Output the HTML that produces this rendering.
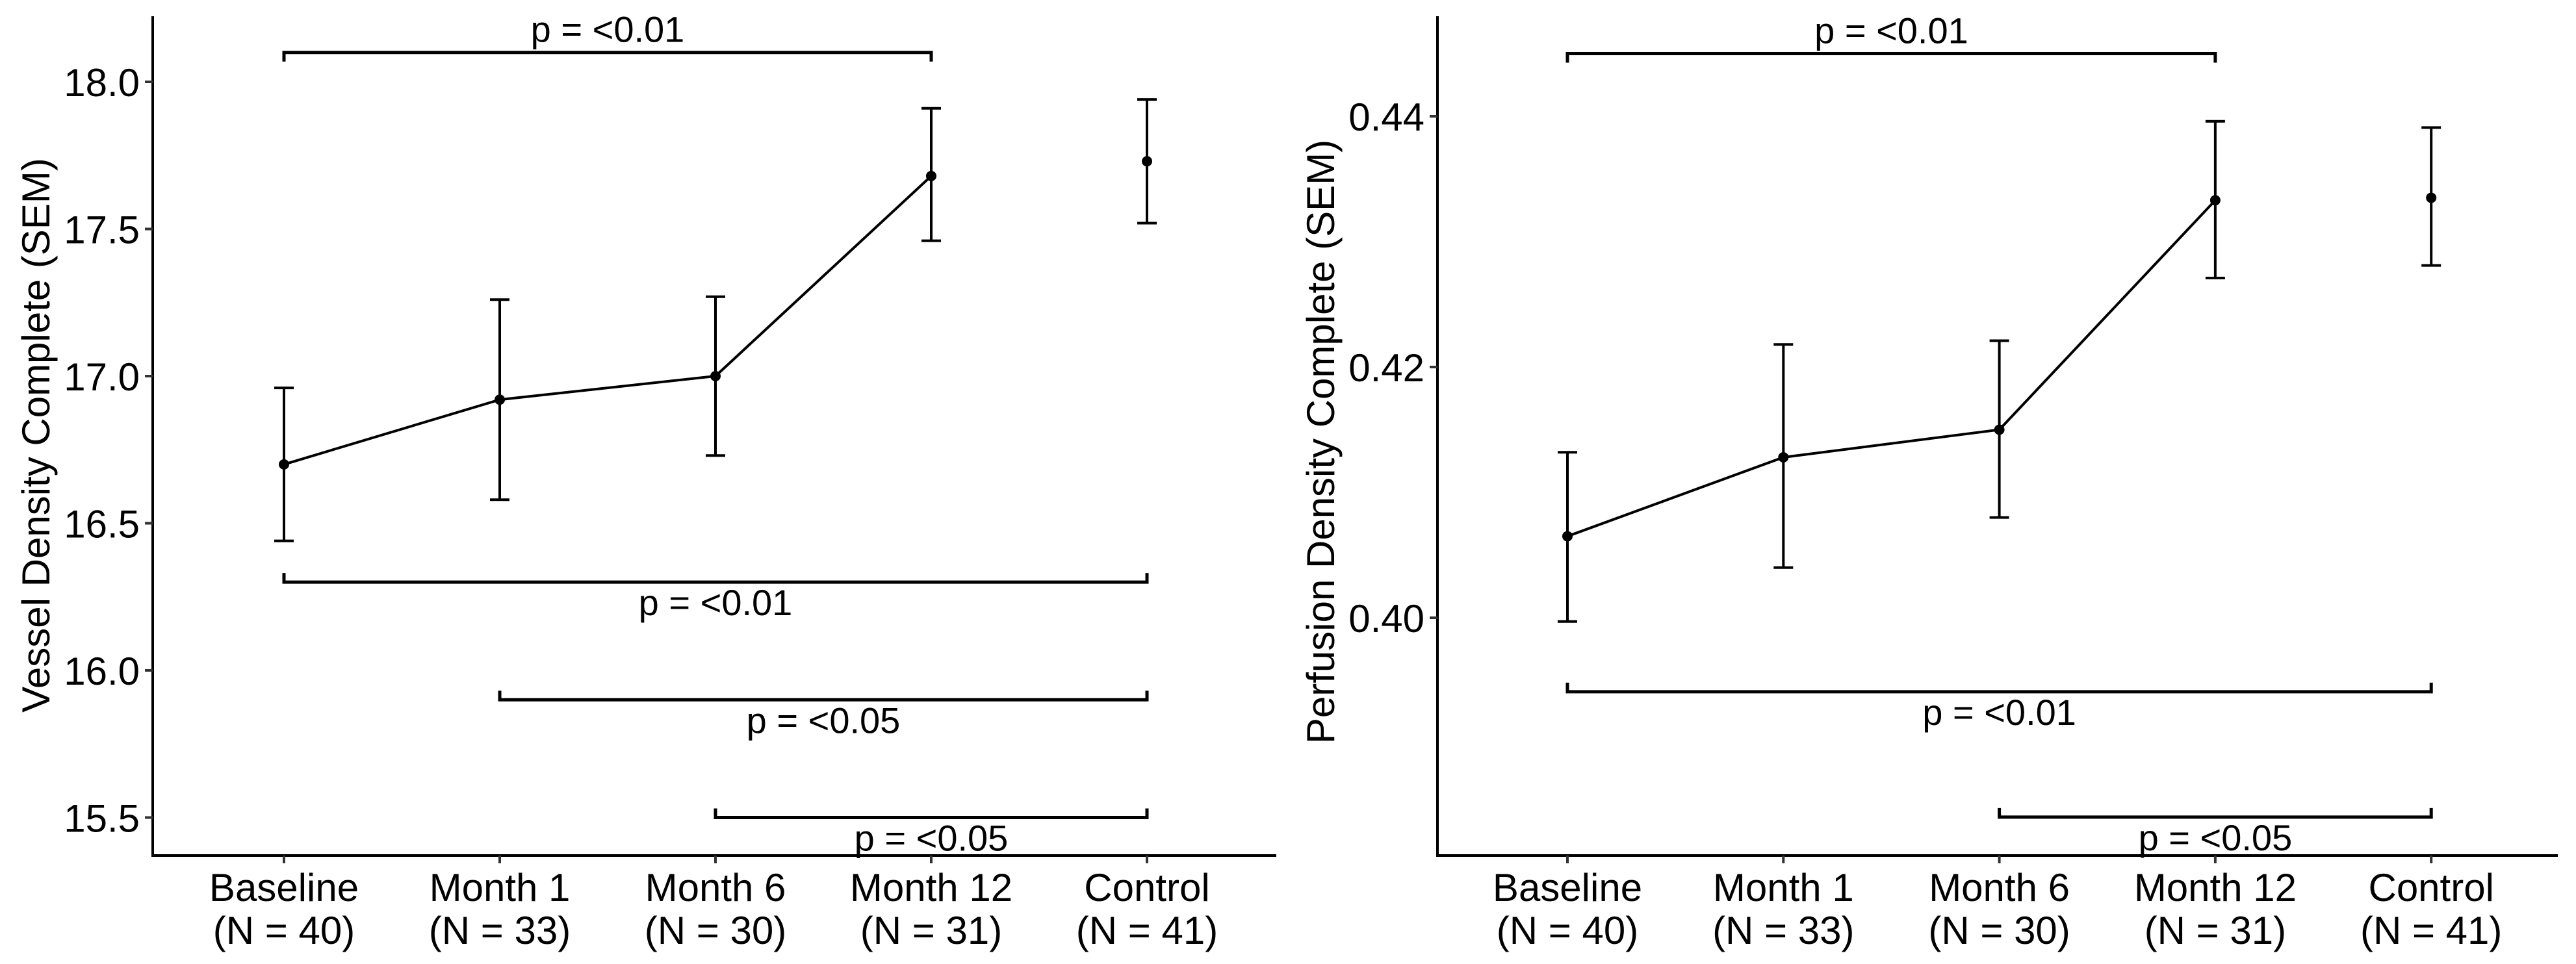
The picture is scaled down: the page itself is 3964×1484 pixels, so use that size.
<!DOCTYPE html>
<html><head><meta charset="utf-8"><style>
html,body{margin:0;padding:0;background:#fff;}
svg{display:block;font-family:"Liberation Sans",Arial,sans-serif;}
</style></head><body>
<svg id="chart" width="3964" height="1484" viewBox="0 0 3964 1484" xmlns="http://www.w3.org/2000/svg"></svg>
<script>
const categories = ["Baseline","Month 1","Month 6","Month 12","Control"];
const nLabels = ["(N = 40)","(N = 33)","(N = 30)","(N = 31)","(N = 41)"];
const vesselMean = [16.70,16.92,17.00,17.68,17.73];
const vesselLow  = [16.44,16.58,16.73,17.46,17.52];
const vesselHigh = [16.96,17.26,17.27,17.91,17.94];
const vesselTicks = [15.5,16.0,16.5,17.0,17.5,18.0];
const vesselTickLabels = ["15.5","16.0","16.5","17.0","17.5","18.0"];
const vesselBrackets = [[0,3,18.10,"p = <0.01","up"],[0,4,16.30,"p = <0.01","down"],[1,4,15.90,"p = <0.05","down"],[2,4,15.50,"p = <0.05","down"]];
const perfMean = [0.4065,0.4128,0.4150,0.4333,0.4335];
const perfLow  = [0.3997,0.4040,0.4080,0.4271,0.4281];
const perfHigh = [0.4132,0.4218,0.4221,0.4396,0.4391];
const perfTicks = [0.40,0.42,0.44];
const perfTickLabels = ["0.40","0.42","0.44"];
const perfBrackets = [[0,3,0.445,"p = <0.01","up"],[0,4,0.3941,"p = <0.01","down"],[2,4,0.3841,"p = <0.05","down"]];

const svg = document.getElementById('chart');
const NS = "http://www.w3.org/2000/svg";
function mk(tag, attrs, parent){const e=document.createElementNS(NS,tag);for(const k in attrs)e.setAttribute(k,attrs[k]);(parent||svg).appendChild(e);return e;}

function panel(cfg){
  const g = mk('g',{});
  
  
  const x = i => cfg.x0 + i*cfg.dx;
  const y = v => cfg.yRef + (cfg.vRef - v)*cfg.pxPerUnit;
  // axes
  const ya = mk('line',{x1:cfg.axX,y1:25,x2:cfg.axX,y2:1317,stroke:'#000','stroke-width':4},g);
  
  
  const xa = mk('line',{x1:cfg.axX-2,y1:1317,x2:cfg.axEnd,y2:1317,stroke:'#000','stroke-width':4},g);
  
  
  cfg.ticks.forEach((t,i)=>{
    mk('line',{x1:cfg.axX-12,y1:y(t),x2:cfg.axX,y2:y(t),stroke:'#333','stroke-width':4},g);
    const tl = mk('text',{x:cfg.axX-20,y:y(t)+22,'text-anchor':'end','font-size':60,fill:'#000'},g);
    tl.textContent = cfg.tickLabels[i];
    
    
  });
  categories.forEach((c,i)=>{
    mk('line',{x1:x(i),y1:1317,x2:x(i),y2:1329,stroke:'#333','stroke-width':4},g);
    const t1 = mk('text',{x:x(i),y:1387,'text-anchor':'middle','font-size':60,fill:'#000'},g);
    t1.textContent = c;
    
    
    const t2 = mk('text',{x:x(i),y:1453,'text-anchor':'middle','font-size':60,fill:'#000'},g);
    t2.textContent = nLabels[i];
    
    
  });
  const yt = mk('text',{x:0,y:0,'text-anchor':'middle','font-size':60,fill:'#000',transform:`translate(${cfg.titleX},${cfg.titleY}) rotate(-90)`},g);
  yt.textContent = cfg.title;
  
  
  // line (first 4)
  let d='';
  for(let i=0;i<4;i++) d += (i?'L':'M')+x(i)+','+y(cfg.mean[i]);
  const ln = mk('path',{d:d,fill:'none',stroke:'#000','stroke-width':4},g);
  
  
  cfg.mean.forEach((m,i)=>{
    const eb = mk('path',{d:`M${x(i)-15},${y(cfg.low[i])}H${x(i)+15}M${x(i)},${y(cfg.low[i])}V${y(cfg.high[i])}M${x(i)-15},${y(cfg.high[i])}H${x(i)+15}`,fill:'none',stroke:'#000','stroke-width':4},g);
    
    
    const pt = mk('circle',{cx:x(i),cy:y(m),r:8,fill:'#000'},g);
    
    
  });
  cfg.brackets.forEach(b=>{
    const x1=x(b[0]), x2=x(b[1]), yy=y(b[2]);
    const tk = b[4]==='up'?14:-14;
    const br = mk('path',{d:`M${x1},${yy+tk}V${yy}H${x2}V${yy+tk}`,fill:'none',stroke:'#000','stroke-width':5},g);
    
    
    const lb = mk('text',{x:(x1+x2)/2,y:b[4]==='up'?yy-16:yy+51,'text-anchor':'middle','font-size':56,fill:'#000'},g);
    lb.textContent = b[3];
    
    
  });
}
panel({name:'vessel-density-panel',x0:437,dx:332,axX:235,axEnd:1964,yRef:126,vRef:18.0,pxPerUnit:453,
  ticks:vesselTicks,tickLabels:vesselTickLabels,mean:vesselMean,low:vesselLow,high:vesselHigh,brackets:vesselBrackets,
  title:'Vessel Density Complete (SEM)',titleX:76,titleY:670});
panel({name:'perfusion-density-panel',x0:2412,dx:332.3,axX:2212,axEnd:3936,yRef:179,vRef:0.44,pxPerUnit:19300,
  ticks:perfTicks,tickLabels:perfTickLabels,mean:perfMean,low:perfLow,high:perfHigh,brackets:perfBrackets,
  title:'Perfusion Density Complete (SEM)',titleX:2053,titleY:680});
</script>
</body></html>
